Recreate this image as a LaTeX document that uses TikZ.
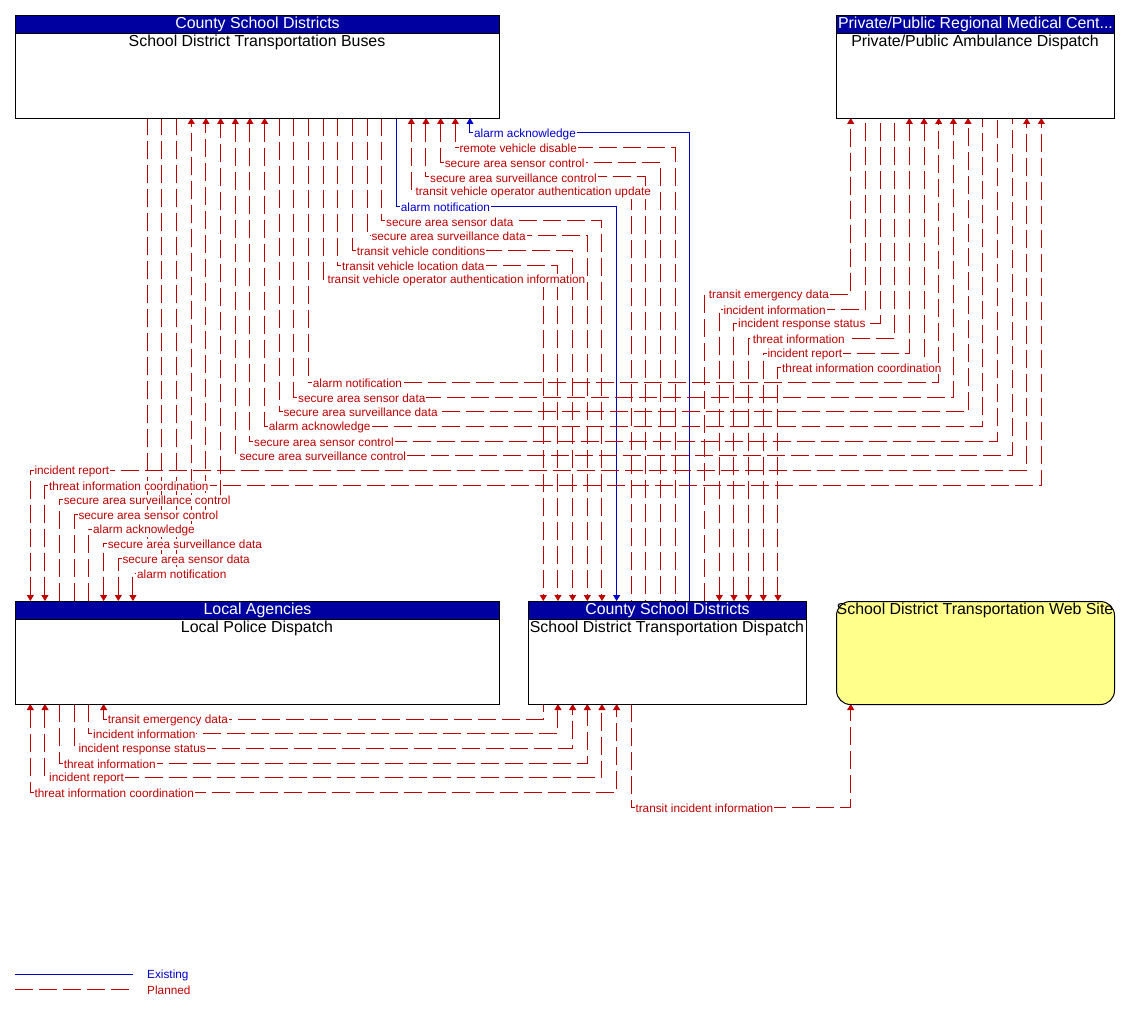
\documentclass[tikz,border=0pt]{standalone}
\usepackage{fontspec}
\setmainfont{Liberation Sans}
\usetikzlibrary{arrows.meta}
\definecolor{plannedc}{RGB}{192,0,0}
\definecolor{existc}{RGB}{0,0,204}
\definecolor{hdrc}{RGB}{0,0,160}
\definecolor{webc}{RGB}{255,255,140}
\pgfdeclarelayer{bg}
\pgfdeclarelayer{lines}
\pgfsetlayers{bg,lines,main}
\newcommand\flow[7]{%
  \begin{pgfonlayer}{lines}
  \draw[#1,#2] (#3) -- (#3 |- 0,#5) -- (#4 |- 0,#5) -- (#4);
  \end{pgfonlayer}
  \node[lbl,#1text] (#6) at (#3 |- 0,#5) {#7};}
\begin{document}
\begin{tikzpicture}[x=1pt,y=-1pt,>={Triangle[width=7pt,length=6pt]},
 planned/.style={draw=plannedc,line width=1pt,dash pattern=on 18pt off 6pt},
 existing/.style={draw=existc,line width=1pt},
 plannedtext/.style={text=plannedc},
 existingtext/.style={text=existc},
 lbl/.style={anchor=west,xshift=3pt,yshift=-1pt,fill=white,inner sep=1pt,font=\fontsize{11.8}{12}\selectfont},
 boxbody/.style={draw=black,line width=1pt,fill=white,anchor=north west,inner sep=0pt,minimum height=103pt},
 hdr/.style={draw=black,line width=1pt,fill=hdrc,text=white,anchor=north west,inner sep=0pt,minimum height=18pt,font=\fontsize{15.9}{16}\selectfont},
 ttl/.style={font=\fontsize{15.9}{16}\selectfont,text=black,inner sep=0pt}]
\useasboundingbox (0,0) rectangle (1127,1011);
\begin{pgfonlayer}{bg}
\fill[white] (0,0) rectangle (1127,1011);
\end{pgfonlayer}

% boxes
\node[boxbody,minimum width=484pt] (bus) at (15,15) {};
\node[hdr,minimum width=484pt] (busH) at (15,15) {County School Districts};
\node[ttl] (busT) at (257,42.5) {School District Transportation Buses};

\node[boxbody,minimum width=278pt] (amb) at (836,15) {};
\node[hdr,minimum width=278pt] (ambH) at (836,15) {Private/Public Regional Medical Cent...};
\node[ttl] (ambT) at (975,42.5) {Private/Public Ambulance Dispatch};

\node[boxbody,minimum width=484pt] (pol) at (15,601) {};
\node[hdr,minimum width=484pt] (polH) at (15,601) {Local Agencies};
\node[ttl] (polT) at (257,628.5) {Local Police Dispatch};

\node[boxbody,minimum width=278pt] (dis) at (528,601) {};
\node[hdr,minimum width=278pt] (disH) at (528,601) {County School Districts};
\node[ttl] (disT) at (667,628.5) {School District Transportation Dispatch};

\node[draw=black,line width=1pt,fill=webc,rounded corners=14pt,minimum width=278pt,minimum height=103pt,anchor=north west,inner sep=0pt] (web) at (836,601) {};
\node[ttl] (webT) at (975,610.5) {School District Transportation Web Site};

% ports
\foreach \i in {0,...,22} {\coordinate (bus\i) at ({147.3+14.667*\i},118);}
\foreach \i in {0,...,16} {\coordinate (dT\i) at ({543.3+14.667*\i},601);}
\foreach \i in {0,...,13} {\coordinate (am\i) at ({850.7+14.667*\i},118);}
\foreach \i in {0,...,7} {\coordinate (pT\i) at ({30.3+14.667*\i},601);}
\foreach \i in {0,...,5} {\coordinate (pB\i) at ({30.3+14.667*\i},704);}
\foreach \i in {0,...,6} {\coordinate (dB\i) at ({543.3+14.667*\i},704);}
\coordinate (wb0) at (850.7,704);

% bus <-> dispatch
\flow{existing}{<-}{bus22}{dT10}{133}{l1}{alarm acknowledge}
\flow{planned}{<-}{bus21}{dT9}{147.67}{l2}{remote vehicle disable}
\flow{planned}{<-}{bus20}{dT8}{162.33}{l3}{secure area sensor control}
\flow{planned}{<-}{bus19}{dT7}{177}{l4}{secure area surveillance control}
\flow{planned}{<-}{bus18}{dT6}{191.67}{l5}{transit vehicle operator authentication update}
\flow{existing}{->}{bus17}{dT5}{206.33}{l6}{alarm notification}
\flow{planned}{->}{bus16}{dT4}{221}{l7}{secure area sensor data}
\flow{planned}{->}{bus15}{dT3}{235.67}{l8}{secure area surveillance data}
\flow{planned}{->}{bus14}{dT2}{250.33}{l9}{transit vehicle conditions}
\flow{planned}{->}{bus13}{dT1}{265}{l10}{transit vehicle location data}
\flow{planned}{->}{bus12}{dT0}{279.67}{l11}{transit vehicle operator authentication information}
% dispatch <-> ambulance
\flow{planned}{->}{dT11}{am0}{294.33}{l12}{transit emergency data}
\flow{planned}{<-}{dT12}{am1}{309}{l13}{incident information}
\flow{planned}{<-}{dT13}{am2}{323.67}{l14}{incident response status}
\flow{planned}{<-}{dT14}{am3}{338.33}{l15}{threat information}
\flow{planned}{<->}{dT15}{am4}{353}{l16}{incident report}
\flow{planned}{<->}{dT16}{am5}{367.67}{l17}{threat information coordination}
% bus <-> ambulance
\flow{planned}{->}{bus11}{am6}{382.33}{l18}{alarm notification}
\flow{planned}{->}{bus10}{am7}{397}{l19}{secure area sensor data}
\flow{planned}{->}{bus9}{am8}{411.67}{l20}{secure area surveillance data}
\flow{planned}{<-}{bus8}{am9}{426.33}{l21}{alarm acknowledge}
\flow{planned}{<-}{bus7}{am10}{441}{l22}{secure area sensor control}
\flow{planned}{<-}{bus6}{am11}{455.67}{l23}{secure area surveillance control}
% police <-> ambulance
\flow{planned}{<->}{pT0}{am12}{470.33}{l24}{incident report}
\flow{planned}{<->}{pT1}{am13}{485}{l25}{threat information coordination}
% police <-> bus
\flow{planned}{->}{pT2}{bus5}{499.67}{l26}{secure area surveillance control}
\flow{planned}{->}{pT3}{bus4}{514.33}{l27}{secure area sensor control}
\flow{planned}{->}{pT4}{bus3}{529}{l28}{alarm acknowledge}
\flow{planned}{<-}{pT5}{bus0}{543.67}{l29}{secure area surveillance data}
\flow{planned}{<-}{pT6}{bus1}{558.33}{l30}{secure area sensor data}
\flow{planned}{<-}{pT7}{bus2}{573}{l31}{alarm notification}
% police <-> dispatch (bottom)
\flow{planned}{<-}{pB5}{dB0}{719}{l32}{transit emergency data}
\flow{planned}{->}{pB4}{dB1}{733.67}{l33}{incident information}
\flow{planned}{->}{pB3}{dB2}{748.33}{l34}{incident response status}
\flow{planned}{->}{pB2}{dB3}{763}{l35}{threat information}
\flow{planned}{<->}{pB1}{dB4}{777.67}{l36}{incident report}
\flow{planned}{<->}{pB0}{dB5}{792.33}{l37}{threat information coordination}
% dispatch -> web
\flow{planned}{->}{dB6}{wb0}{807}{l38}{transit incident information}

% legend
\coordinate (le1) at (15,974);
\coordinate (le2) at (133,974);
\coordinate (lp1) at (15,989);
\coordinate (lp2) at (133,989);
\draw[existing] (le1) -- (le2);
\draw[planned] (lp1) -- (lp2);
\node[anchor=west,inner sep=0pt,text=existc,font=\fontsize{11.8}{12}\selectfont] (leT) at (147,975.5) {Existing};
\node[anchor=west,inner sep=0pt,text=plannedc,font=\fontsize{11.8}{12}\selectfont] (lpT) at (147,990) {Planned};
\end{tikzpicture}
\end{document}
